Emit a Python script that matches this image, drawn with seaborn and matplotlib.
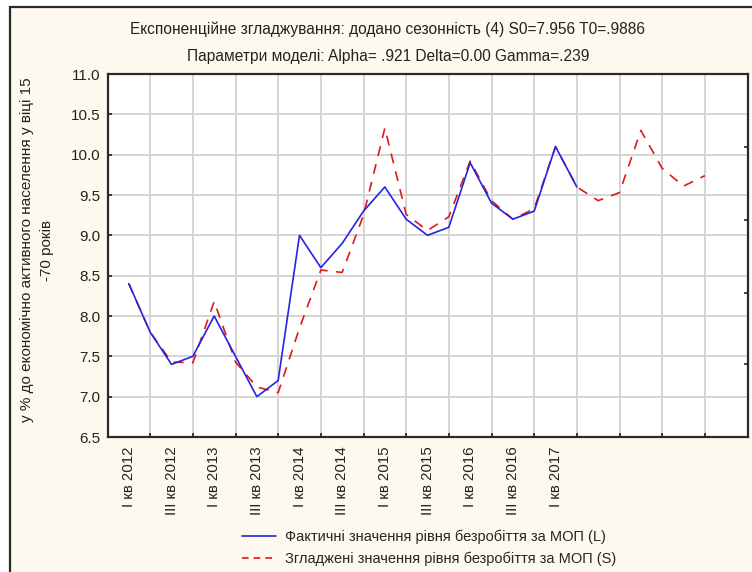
import numpy as np
import pandas as pd
import matplotlib
matplotlib.use("Agg")
import matplotlib.pyplot as plt
from matplotlib.patches import Rectangle
from matplotlib.lines import Line2D
import seaborn as sns

# ---- data ----
actual_x = list(range(1, 23))
actual_vals = [8.4, 7.8, 7.4, 7.5, 8.0, 7.5, 7.0, 7.2, 9.0, 8.6, 8.9,
               9.3, 9.6, 9.2, 9.0, 9.1, 9.9, 9.4, 9.2, 9.3, 10.1, 9.6]
smooth_x = list(range(1, 29))
smooth_vals = [8.4, 7.8, 7.43, 7.42, 8.18, 7.43, 7.12, 7.05, 7.85, 8.57, 8.54,
               9.25, 10.33, 9.26, 9.06, 9.23, 9.92, 9.43, 9.2, 9.33, 10.1, 9.6,
               9.43, 9.53, 10.3, 9.83, 9.61, 9.74]
tick_pos = list(range(1, 22, 2))
tick_labels = ["I кв 2012", "III кв 2012", "I кв 2013", "III кв 2013",
               "I кв 2014", "III кв 2014", "I кв 2015", "III кв 2015",
               "I кв 2016", "III кв 2016", "I кв 2017"]
title1 = "Експоненційне згладжування: додано сезонність (4) S0=7.956 T0=.9886"
title2 = "Параметри моделі: Alpha= .921 Delta=0.00 Gamma=.239"
ylabel = "у % до економічно активного населення у віці 15\n-70 років"
legend_labels = ["Фактичні значення рівня безробіття за МОП (L)",
                 "Згладжені значення рівня безробіття за МОП (S)"]

df_a = pd.DataFrame({"x": actual_x, "y": actual_vals})
df_s = pd.DataFrame({"x": smooth_x, "y": smooth_vals})

sns.set_theme(style="white")
plt.rcParams["font.family"] = ["Liberation Sans", "DejaVu Sans"]

W, H = 752, 572
fig = plt.figure(figsize=(W / 100, H / 100), dpi=100)
fig.patch.set_facecolor("white")
cream = "#FEF9EE"
bg = Rectangle((10 / W, -0.05), 1.2, 1 - 7 / H + 0.05,
               transform=fig.transFigure, facecolor=cream,
               edgecolor="#2a2a2a", lw=1.6, zorder=-10)
fig.add_artist(bg)

ax = fig.add_axes([107.5 / W, 1 - 437 / H, (747.5 - 107.5) / W, (437 - 74) / H])
ax.set_facecolor("white")

blue = "#2525DD"
red = "#E01818"
sns.lineplot(data=df_s, x="x", y="y", ax=ax, color=red, lw=1.2,
             linestyle=(0, (6, 5)), zorder=3)
sns.lineplot(data=df_a, x="x", y="y", ax=ax, color=blue, lw=1.2, zorder=4)

ax.set_xlim(0, 30)
ax.set_ylim(6.5, 11.0)
ax.set_xticks(range(0, 31, 2))
ax.set_xticklabels([])
ax.set_xticks(tick_pos, minor=True)
ax.set_xticklabels(tick_labels, minor=True, rotation=90, fontsize=10.8)
yt = np.arange(6.5, 11.01, 0.5)
ax.set_yticks(yt)
ax.set_yticklabels([f"{v:.1f}" for v in yt], fontsize=11, color="#222222")

ax.tick_params(axis="x", which="major", direction="in", length=3, width=1.2,
               color="#222222", bottom=True)
ax.tick_params(axis="x", which="minor", length=0, pad=7, colors="#222222")
ax.tick_params(axis="y", direction="in", length=3, width=1.2, color="#222222",
               left=True, pad=5)

ax.grid(True, which="major", color="#d4d4d4", lw=1.4)
ax.set_axisbelow(True)
for sp in ax.spines.values():
    sp.set_color("#2a2a2a")
    sp.set_linewidth(1.6)

ax.set_xlabel("")
ax.set_ylabel(ylabel, fontsize=11, color="#222222", linespacing=1.55)
ax.yaxis.set_label_coords(-0.083, 0.515)

# right-side small ticks (secondary axis, no labels)
ax2 = ax.twinx()
ax2.set_ylim(6.5, 11.0)
ax2.set_yticks([7.405, 8.285, 9.19, 10.095])
ax2.set_yticklabels([])
ax2.tick_params(axis="y", direction="in", length=3, width=1.2, color="#222222")
ax2.grid(False)
for sp in ax2.spines.values():
    sp.set_visible(False)

fig.text(388 / W, 1 - 29.5 / H, title1, ha="center", va="center",
         fontsize=11.2, color="#222222")
fig.text(388 / W, 1 - 56 / H, title2, ha="center", va="center",
         fontsize=11.2, color="#222222")

handles = [Line2D([], [], color=blue, lw=1.2),
           Line2D([], [], color=red, lw=1.2, linestyle=(0, (4, 3)))]
fig.legend(handles, legend_labels, loc="center", bbox_to_anchor=(429 / W, 1 - 548 / H),
           frameon=False, fontsize=10.5, handlelength=2.3, handletextpad=0.6,
           labelspacing=0.5, borderpad=0)

fig.savefig("out.png", dpi=100, facecolor=fig.get_facecolor())
